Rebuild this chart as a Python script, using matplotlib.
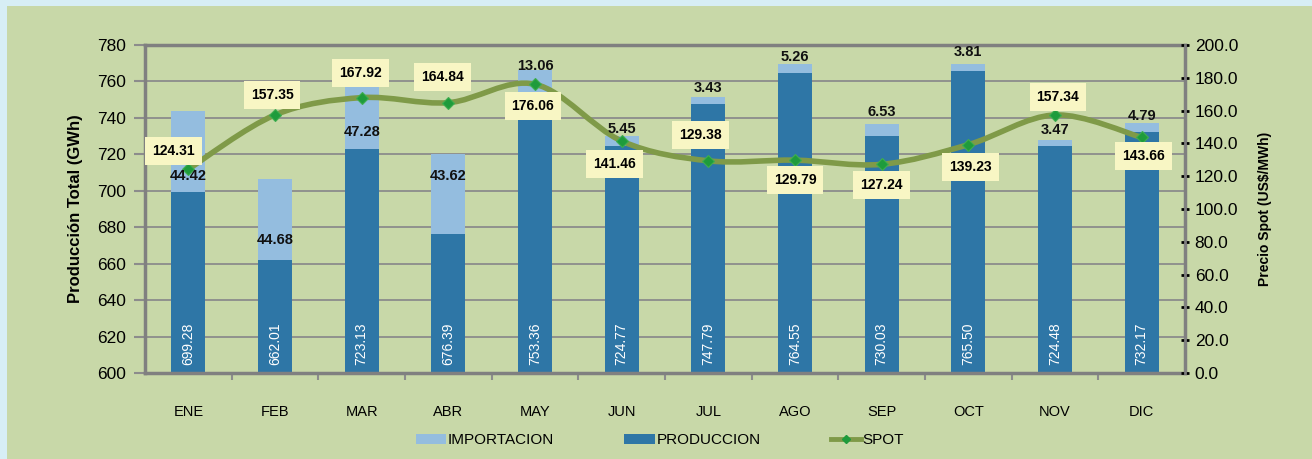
import matplotlib
matplotlib.use("Agg")
import matplotlib.pyplot as plt
import numpy as np
from matplotlib.path import Path
from matplotlib.patches import PathPatch, Rectangle, Patch
from matplotlib.lines import Line2D

plt.rcParams['font.family'] = ['Liberation Sans Narrow', 'Liberation Sans', 'DejaVu Sans']

meses = ["ENE", "FEB", "MAR", "ABR", "MAY", "JUN", "JUL", "AGO", "SEP", "OCT", "NOV", "DIC"]
produccion = [699.28, 662.01, 723.13, 676.39, 753.36, 724.77, 747.79, 764.55, 730.03, 765.50, 724.48, 732.17]
importacion = [44.42, 44.68, 47.28, 43.62, 13.06, 5.45, 3.43, 5.26, 6.53, 3.81, 3.47, 4.79]
spot = [124.31, 157.35, 167.92, 164.84, 176.06, 141.46, 129.38, 129.79, 127.24, 139.23, 157.34, 143.66]

# where the labels sit
imp_label_y = [708, 673, 732, 708, 768.5, 734, 756.5, 773.5, 743, 776, 733.5, 741]
spot_off = [(-15, 18), (-3, 20), (-1, 25), (-6, 26), (-2, -22), (-7, -23),
            (-8, 26), (0, -20), (0, -21), (2, -22), (3, 18), (2, -19)]

c_bg = "#c8d8a8"
c_imp = "#94bddf"
c_prod = "#2e76a6"
c_line = "#7f9a48"
c_mark = "#1e9b3c"
c_grid = "#8c8c8c"

fig = plt.figure(figsize=(13.12, 4.59), dpi=100)
fig.patch.set_facecolor("#d7eef5")
fig.add_artist(Rectangle((7 / 1312, 0), 1, 1 - 6 / 459, transform=fig.transFigure,
                         facecolor=c_bg, edgecolor="none", zorder=-10))

ax = fig.add_axes([145 / 1312, 1 - 373 / 459, 1040 / 1312, 328 / 459])
ax.set_facecolor(c_bg)
x = np.arange(len(meses))

ax.bar(x, produccion, width=0.39, color=c_prod, zorder=2)
ax.bar(x, importacion, width=0.39, bottom=produccion, color=c_imp, zorder=2)

ax.set_ylim(600, 780)
ax.set_xlim(-0.5, 11.5)
ax.set_yticks(np.arange(600, 781, 20))
ax.yaxis.grid(True, color=c_grid, lw=1.3)
ax.set_axisbelow(True)
ax.set_xticks(x)
ax.set_xticklabels(meses, fontsize=10.5)
ax.set_xticks(np.arange(0.5, 11, 1), minor=True)
ax.tick_params(axis="x", which="major", length=0, pad=23)
ax.tick_params(axis="x", which="minor", length=5, width=1.5, color=c_grid)
ax.tick_params(axis="y", length=8, width=1.5, color=c_grid, labelsize=12.5, pad=6)
for s in ax.spines.values():
    s.set_color("#808080")
    s.set_linewidth(2.5)
ax.set_ylabel("Producción Total (GWh)", fontsize=12, fontweight="bold",
              family=["Liberation Sans", "DejaVu Sans"], labelpad=10)

ax2 = ax.twinx()
ax2.set_ylim(0, 200)
ax2.set_yticks(np.arange(0, 201, 20))
ax2.set_yticklabels([f"{v:.1f}" for v in np.arange(0, 201, 20)])
ax2.tick_params(axis="y", direction="inout", length=6, width=2, color="black",
                labelsize=12.5, pad=4)
ax2.spines["right"].set_color("#808080")
ax2.spines["right"].set_linewidth(2)
for k in ["left", "top", "bottom"]:
    ax2.spines[k].set_visible(False)
ax2.set_ylabel("Precio Spot (US$/MWh)", fontsize=10, fontweight="bold",
               family=["Liberation Sans", "DejaVu Sans"], labelpad=14)

# smoothed spot line (excel style bezier)
pts = np.column_stack([x, spot])
ext = np.vstack([pts[0], pts, pts[-1]])
verts = [tuple(pts[0])]
codes = [Path.MOVETO]
for i in range(len(pts) - 1):
    p0, p1, p2, p3 = ext[i], ext[i + 1], ext[i + 2], ext[i + 3]
    verts += [tuple(p1 + (p2 - p0) / 6), tuple(p2 - (p3 - p1) / 6), tuple(p2)]
    codes += [Path.CURVE4] * 3
ax2.add_patch(PathPatch(Path(verts, codes), facecolor="none", edgecolor=c_line,
                        lw=4, capstyle="round", zorder=2))
ax2.plot(x, spot, linestyle="none", marker="D", markersize=6.5, color=c_mark,
         markeredgecolor="#3fae4f", markeredgewidth=0.8, zorder=3)

for i, v in enumerate(spot):
    ax2.annotate(f"{v:.2f}", (x[i], v), xytext=spot_off[i], textcoords="offset pixels",
                 ha="center", va="center", fontsize=10, fontweight="bold", zorder=5,
                 bbox=dict(boxstyle="square,pad=0.5", facecolor="#f8f6c4", edgecolor="none"))

for i in range(len(meses)):
    ax2.text(x[i], imp_label_y[i], f"{importacion[i]:.2f}", transform=ax.transData,
             ha="center", va="center", fontsize=10.5, fontweight="bold", color="#111111", zorder=4)
    ax2.text(x[i], 616, f"{produccion[i]:.2f}", transform=ax.transData, rotation=90,
             ha="center", va="center", fontsize=10, color="white", zorder=4)

handles = [Patch(facecolor=c_imp, label="IMPORTACION"),
           Patch(facecolor=c_prod, label="PRODUCCION"),
           Line2D([], [], color=c_line, lw=3.5, marker="D", markersize=4,
                  markerfacecolor=c_mark, markeredgecolor=c_mark, label="SPOT")]
fig.legend(handles=handles, loc="center", bbox_to_anchor=(0.503, 0.041), ncol=3,
           frameon=False, fontsize=11, handlelength=2.0, handleheight=0.6,
           handletextpad=0.1, columnspacing=4.6)

fig.savefig("out.png", dpi=100, facecolor=fig.get_facecolor())
